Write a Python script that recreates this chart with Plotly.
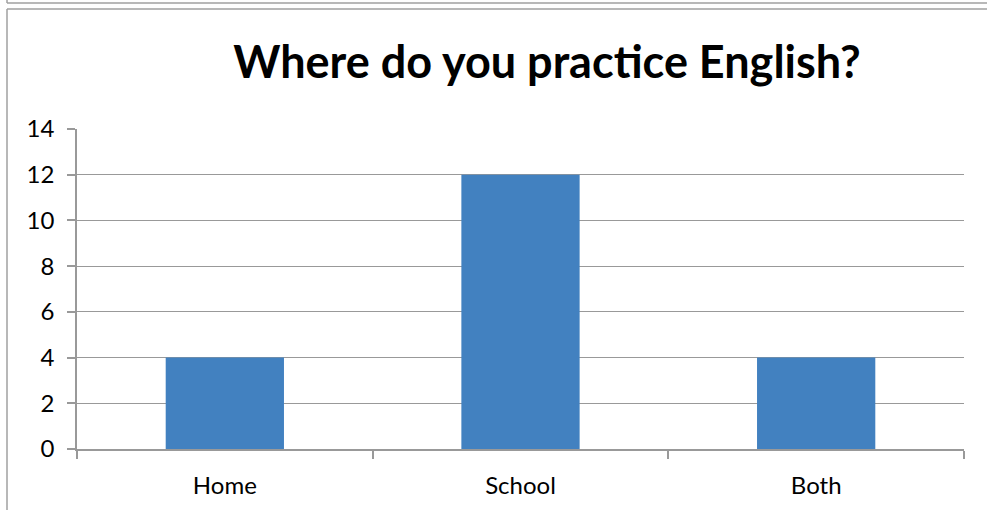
import plotly.graph_objects as go

categories = ["Home", "School", "Both"]
values = [4, 12, 4]
y_ticks = [0, 2, 4, 6, 8, 10, 12, 14]
title_text = "Where do you practice English?"

W, H = 987, 510
L, R, T, B = 77, 23, 129, 61
pw, ph = W - L - R, H - T - B

def px(x):
    return (x - L) / pw

def py(y):
    return (H - B - y) / ph

fig = go.Figure()
fig.add_trace(go.Bar(
    x=categories, y=values,
    marker=dict(color="#4281C0", line=dict(width=0)),
))

grid = "#999999"
border = "#A0A0A0"
shapes = [
    dict(type="line", xref="paper", yref="paper", x0=px(7), x1=px(990), y0=py(9), y1=py(9),
         line=dict(color=border, width=1.5)),
    dict(type="line", xref="paper", yref="paper", x0=px(7), x1=px(7), y0=py(9), y1=py(515),
         line=dict(color=border, width=1.5)),
    dict(type="line", xref="paper", yref="paper", x0=px(7), x1=px(990), y0=py(3), y1=py(3),
         line=dict(color=border, width=1.5)),
    dict(type="line", xref="paper", yref="paper", x0=px(7), x1=px(7), y0=py(-5), y1=py(3),
         line=dict(color=border, width=1.5)),
]

fig.update_layout(
    width=W, height=H,
    margin=dict(l=L, r=R, t=T, b=B, pad=0),
    paper_bgcolor="white", plot_bgcolor="white",
    bargap=0.6,
    showlegend=False,
    shapes=shapes,
    title=dict(text="<b>" + title_text + "</b>", x=547 / W, xanchor="center",
               y=1 - 62 / H, yanchor="middle", yref="container",
               font=dict(family="Lato", size=45, color="black")),
    font=dict(family="Lato", size=24, color="black"),
    xaxis=dict(
        type="category", showgrid=False, showline=True, linecolor=grid, linewidth=1.5,
        ticks="outside", tickson="boundaries", ticklen=8, tickcolor=grid, tickwidth=1.5,
        tickfont=dict(family="Lato", size=24), zeroline=False, ticklabelstandoff=14,
    ),
    yaxis=dict(
        range=[0, 14], tickvals=y_ticks, showgrid=True, gridcolor=grid, gridwidth=1.3,
        showline=True, linecolor=grid, linewidth=1.5, ticks="outside", ticklen=8,
        tickcolor=grid, tickwidth=1.5, zeroline=False, tickfont=dict(family="Lato", size=24),
        ticklabelstandoff=8,
    ),
)

fig.write_html("out.html")
